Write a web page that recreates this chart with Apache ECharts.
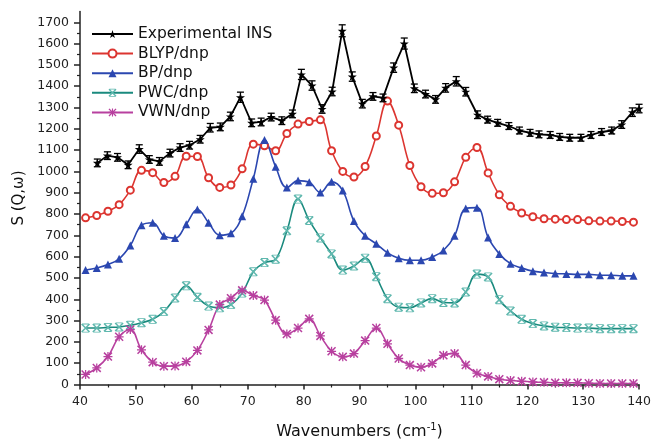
<!DOCTYPE html>
<html><head><meta charset="utf-8">
<script src="https://cdn.jsdelivr.net/npm/echarts@6/dist/echarts.min.js"></script>
<style>html,body{margin:0;padding:0;background:#fff}#c{width:654px;height:445px}</style>
</head><body><div id="c"></div>
<script>
// ---- data ----
const seriesNames = ['Experimental INS', 'BLYP/dnp', 'BP/dnp', 'PWC/dnp', 'VWN/dnp'];
const yTicks = [0,100,200,300,400,500,600,700,800,900,1000,1100,1200,1300,1400,1500,1600,1700];

const expX = [43.1,44.9,46.7,48.6,50.6,52.4,54.2,56.1,57.9,59.6,61.5,63.3,65.1,66.9,68.7,70.7,72.4,74.2,76.1,78.0,79.6,81.5,83.3,
  85.1,86.9,88.7,90.5,92.4,94.2,96.1,98.0,99.8,101.8,103.6,105.4,107.3,109.0,111.1,112.9,114.7,116.7,118.6,120.5,122.1,124.1,125.8,127.6,129.6,131.4,133.3,135.1,136.9,138.8,140.0];
const expY = [1040,1074,1066,1031,1105,1056,1047,1086,1112,1123,1151,1205,1209,1258,1348,1228,1232,1255,1238,1270,1455,1403,1293,
  1375,1660,1445,1318,1352,1345,1487,1600,1390,1363,1338,1392,1423,1374,1266,1243,1228,1213,1192,1181,1174,1171,1162,1158,1158,1171,1185,1192,1220,1278,1295];
const expErr = [18,18,18,18,20,18,18,18,18,18,18,20,18,20,24,18,18,18,18,18,24,22,20,
  20,28,22,20,18,18,22,26,20,18,18,20,22,20,18,16,16,16,16,16,16,16,16,16,16,16,16,16,18,20,20];

const calcX = [41,43,45,47,49,51,53,55,57,59,61,63,65,67,69,71,73,75,77,79,81,83,85,87,89,91,93,95,97,99,
  101,103,105,107,109,111,113,115,117,119,121,123,125,127,129,131,133,135,137,139];
const blyp = [782,793,813,844,912,1005,994,948,977,1071,1070,970,925,936,1012,1128,1120,1097,1178,1222,1234,1242,1097,1000,974,1023,1166,1330,1217,1028,
  928,897,900,951,1066,1112,993,890,836,805,787,778,776,774,774,768,767,767,765,762];
const bp = [537,547,563,590,652,747,759,698,687,752,821,759,701,710,790,966,1148,1022,924,957,949,901,951,910,767,698,660,618,593,583,
  583,598,629,698,826,830,690,613,567,547,532,526,521,519,517,517,513,513,510,510];
const pwc = [265,265,268,270,278,290,306,342,406,463,409,368,360,375,429,529,572,588,721,870,770,688,613,537,556,593,506,403,363,360,
  383,403,385,383,434,518,505,398,345,306,286,275,269,267,265,265,262,262,262,262];
const vwn = [47,78,131,224,258,163,105,86,87,107,160,256,375,405,442,418,396,302,237,265,308,228,156,130,145,206,265,191,122,91,
  81,99,137,146,91,53,38,25,19,15,12,10,8,8,8,6,5,5,5,5];

// ---- styling ----
const FONT = 'DejaVu Sans';
const colors = ['#000000', '#dc3530', '#2b47b0', '#1a8a7e', '#b8409f'];
const starPath = 'path://M50,0 L61,35 L98,35 L68,57 L79,91 L50,70 L21,91 L32,57 L2,35 L39,35 Z';
const xPath = 'path://M0,1.2 L1.2,0 L10,8.8 L8.8,10 Z M8.8,0 L10,1.2 L1.2,10 L0,8.8 Z M1,0 L9,0 L9,1 L1,1 Z M1,9 L9,9 L9,10 L1,10 Z';
const astPath = 'path://M0,1.2 L1.2,0 L10,8.8 L8.8,10 Z M8.8,0 L10,1.2 L1.2,10 L0,8.8 Z M0,4.3 L10,4.3 L10,5.7 L0,5.7 Z M4.3,0 L5.7,0 L5.7,10 L4.3,10 Z';

function pairs(xs, ys) { return xs.map((x, i) => [x, ys[i]]); }
const plain = v => String(v);

const chart = echarts.init(document.getElementById('c'), null, {renderer: 'canvas'});
const axisCol = '#222';
chart.setOption({
  animation: false,
  backgroundColor: '#fff',
  grid: {left: 80, right: 14, top: 11.6, bottom: 53.5},
  legend: {
    data: seriesNames,
    orient: 'vertical',
    left: 86, top: 21,
    itemWidth: 41, itemHeight: 10, itemGap: 3.6,
    textStyle: {fontFamily: FONT, fontSize: 15.5, color: '#111'}
  },
  xAxis: {
    type: 'value', min: 40, max: 140, interval: 10,
    name: 'Wavenumbers (cm{sup|-1})',
    nameLocation: 'middle', nameGap: 38,
    nameTextStyle: {fontFamily: FONT, fontSize: 16, color: '#111',
      rich: {sup: {fontFamily: FONT, fontSize: 10, color: '#111', verticalAlign: 'top', padding: [0, 0, 9, 0]}}},
    axisLine: {lineStyle: {color: axisCol, width: 1.5}},
    axisTick: {show: true, length: 5, lineStyle: {color: axisCol, width: 1.5}},
    minorTick: {show: true, splitNumber: 2, length: 3, lineStyle: {color: axisCol, width: 1.2}},
    splitLine: {show: false},
    axisLabel: {fontFamily: FONT, fontSize: 12.5, color: '#222', margin: 11, formatter: plain}
  },
  yAxis: {
    type: 'value', min: 0, max: 1750, interval: 100,
    name: 'S (Q,ω)',
    nameLocation: 'middle', nameGap: 47,
    nameTextStyle: {fontFamily: FONT, fontSize: 15, color: '#111'},
    axisLine: {show: true, lineStyle: {color: axisCol, width: 1.5}},
    axisTick: {show: true, length: 6, customValues: yTicks, lineStyle: {color: axisCol, width: 1.5}},
    minorTick: {show: true, splitNumber: 2, length: 3, lineStyle: {color: axisCol, width: 1.2}},
    splitLine: {show: false},
    axisLabel: {fontFamily: FONT, fontSize: 12.5, color: '#222', margin: 11, customValues: yTicks, formatter: plain}
  },
  series: [
    {
      name: seriesNames[0], type: 'line', data: pairs(expX, expY),
      color: colors[0], symbol: starPath, symbolSize: 9,
      lineStyle: {width: 1.8, color: colors[0]}, itemStyle: {color: colors[0]}, z: 6
    },
    {
      name: 'err', type: 'custom', z: 5,
      data: expX.map((x, i) => [x, expY[i], expErr[i]]),
      encode: {x: 0, y: 1},
      renderItem: function (params, api) {
        const x = api.value(0), y = api.value(1), e = api.value(2);
        const t = api.coord([x, y + e]), b = api.coord([x, y - e]);
        const w = 3.5, st = {stroke: '#000', lineWidth: 1.3};
        return {type: 'group', children: [
          {type: 'line', shape: {x1: t[0], y1: t[1], x2: b[0], y2: b[1]}, style: st},
          {type: 'line', shape: {x1: t[0] - w, y1: t[1], x2: t[0] + w, y2: t[1]}, style: st},
          {type: 'line', shape: {x1: b[0] - w, y1: b[1], x2: b[0] + w, y2: b[1]}, style: st}
        ]};
      }
    },
    {
      name: seriesNames[1], type: 'line', data: pairs(calcX, blyp), smooth: 0.4,
      color: colors[1], symbol: 'emptyCircle', symbolSize: 7,
      lineStyle: {width: 1.6, color: colors[1]}, itemStyle: {color: colors[1], borderWidth: 1}
    },
    {
      name: seriesNames[2], type: 'line', data: pairs(calcX, bp), smooth: 0.4,
      color: colors[2], symbol: 'triangle', symbolSize: 8,
      lineStyle: {width: 1.6, color: colors[2]}, itemStyle: {color: colors[2]}
    },
    {
      name: seriesNames[3], type: 'line', data: pairs(calcX, pwc), smooth: 0.4,
      color: colors[3], symbol: xPath, symbolSize: 9,
      lineStyle: {width: 1.6, color: colors[3]}, itemStyle: {color: '#5fb8ae'}
    },
    {
      name: seriesNames[4], type: 'line', data: pairs(calcX, vwn), smooth: 0.4,
      color: colors[4], symbol: astPath, symbolSize: 9,
      lineStyle: {width: 1.6, color: colors[4]}, itemStyle: {color: colors[4]}
    }
  ]
});
</script></body></html>
